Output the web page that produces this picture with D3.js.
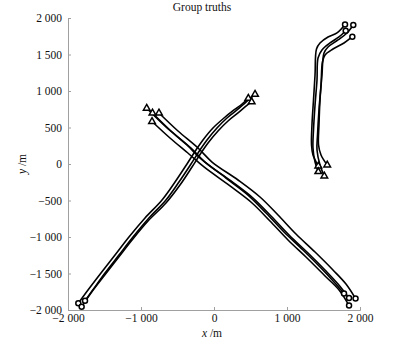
<!DOCTYPE html>
<html><head><meta charset="utf-8">
<script src="https://cdn.jsdelivr.net/npm/d3@7"></script>
<style>
html,body{margin:0;padding:0;background:#fff;}
text{font-family:"Liberation Serif","Times New Roman",serif;fill:#111;}
</style></head>
<body><svg id="c" width="408" height="341"></svg>
<script>
const title = "Group truths";
const xTicks = [-2000, -1000, 0, 1000, 2000];
const xTickLabels = ["\u22122 000", "\u22121 000", "0", "1 000", "2 000"];
const yTicks = [-2000, -1500, -1000, -500, 0, 500, 1000, 1500, 2000];
const yTickLabels = ["\u22122 000", "\u22121 500", "\u22121 000", "\u2212500", "0", "500", "1 000", "1 500", "2 000"];

// Group A: rising from lower-left (circle) to upper-right (triangle)
const groupA1 = [[-1859,-1908],[-1726,-1726],[-1548,-1493],[-1356,-1247],[-1165,-1000],[-945,-740],[-712,-493],[-534,-247],[-370,0],[-247,192],[-151,329],[-14,493],[137,630],[274,740],[384,822],[470,900]];
const groupA2 = [[-1767,-1873],[-1671,-1740],[-1493,-1493],[-1302,-1247],[-1110,-1000],[-891,-740],[-658,-493],[-480,-247],[-315,0],[-192,192],[-96,329],[41,493],[178,630],[315,740],[438,849],[562,955]];
const groupA3 = [[-1813,-1955],[-1685,-1767],[-1507,-1534],[-1315,-1288],[-1123,-1041],[-904,-781],[-658,-534],[-466,-288],[-301,-41],[-178,151],[-82,288],[55,452],[192,589],[329,699],[425,781],[516,853]];

// Group B: falling from upper-left (triangle) to lower-right (circle)
const groupB1 = [[-922,763],[-658,507],[-370,260],[-178,69],[164,-192],[466,-425],[713,-671],[959,-932],[1219,-1178],[1466,-1425],[1644,-1616],[1781,-1774]];
const groupB2 = [[-843,699],[-589,452],[-315,219],[-123,27],[233,-233],[534,-466],[781,-712],[1028,-973],[1288,-1219],[1534,-1466],[1699,-1644],[1850,-1836]];
const groupB3 = [[-849,582],[-603,356],[-343,137],[-137,-41],[219,-301],[521,-534],[767,-781],[1014,-1041],[1274,-1288],[1521,-1534],[1713,-1726],[1850,-1939]];
const groupB4 = [[-754,699],[-493,452],[-219,219],[-27,27],[329,-219],[630,-452],[877,-699],[1123,-959],[1384,-1206],[1630,-1452],[1808,-1644],[1939,-1843]];

// Group C: from upper-right (circle) down to triangle near y=0
const groupC1 = [[1795,1911],[1685,1795],[1562,1740],[1452,1658],[1404,1575],[1384,1219],[1363,877],[1342,534],[1336,260],[1356,123],[1429,-27]];
const groupC2 = [[1908,1904],[1822,1795],[1699,1699],[1562,1603],[1507,1521],[1479,1219],[1452,877],[1438,534],[1432,260],[1466,123],[1551,-14]];
const groupC3 = [[1804,1826],[1712,1740],[1589,1658],[1479,1562],[1425,1452],[1411,1151],[1384,808],[1363,466],[1356,219],[1384,27],[1429,-105]];
const groupC4 = [[1895,1744],[1781,1658],[1630,1575],[1521,1493],[1486,1397],[1466,1082],[1438,740],[1418,397],[1411,192],[1452,-14],[1511,-164]];

const tracks = [
  {pts: groupA1, startMark: "circle", endMark: "triangle"},
  {pts: groupA2, startMark: "circle", endMark: "triangle"},
  {pts: groupA3, startMark: "circle", endMark: "triangle"},
  {pts: groupB1, startMark: "triangle", endMark: "circle"},
  {pts: groupB2, startMark: "triangle", endMark: "circle"},
  {pts: groupB3, startMark: "triangle", endMark: "circle"},
  {pts: groupB4, startMark: "triangle", endMark: "circle"},
  {pts: groupC1, startMark: "circle", endMark: "triangle"},
  {pts: groupC2, startMark: "circle", endMark: "triangle"},
  {pts: groupC3, startMark: "circle", endMark: "triangle"},
  {pts: groupC4, startMark: "circle", endMark: "triangle"}
];

const svg = d3.select("#c");
const x = d3.scaleLinear().domain([-2000, 2000]).range([68, 360]);
const y = d3.scaleLinear().domain([-2000, 2000]).range([310, 18]);
const axisColor = "#a0a0a0";

const xAxis = d3.axisBottom(x).tickValues(xTicks).tickSize(-3).tickPadding(4)
  .tickFormat((d, i) => xTickLabels[i]);
const yAxis = d3.axisLeft(y).tickValues(yTicks).tickSize(-3).tickPadding(6)
  .tickFormat((d, i) => yTickLabels[i]);

const gx = svg.append("g").attr("transform", "translate(0,310)").call(xAxis);
const gy = svg.append("g").attr("transform", "translate(68,0)").call(yAxis);
[gx, gy].forEach(g => {
  g.select(".domain").attr("stroke", axisColor).attr("stroke-width", 1);
  g.selectAll(".tick line").attr("stroke", axisColor);
  g.selectAll(".tick text").attr("font-family", "Liberation Serif, serif")
    .attr("font-size", 11.5).attr("fill", "#111");
});

svg.append("text").attr("x", 202).attr("y", 11).attr("text-anchor", "middle")
  .attr("font-size", 11.5).text(title);
const xl = svg.append("text").attr("x", 212).attr("y", 337).attr("text-anchor", "middle").attr("font-size", 11.5);
xl.append("tspan").attr("font-style", "italic").text("x");
xl.append("tspan").text(" /m");
const yl = svg.append("text").attr("transform", "translate(26,164) rotate(-90)").attr("text-anchor", "middle").attr("font-size", 11.5);
yl.append("tspan").attr("font-style", "italic").text("y");
yl.append("tspan").text(" /m");

const line = d3.line().x(d => x(d[0])).y(d => y(d[1])).curve(d3.curveCatmullRom.alpha(0.5));
const gT = svg.append("g");
tracks.forEach(t => {
  gT.append("path").attr("d", line(t.pts)).attr("fill", "none")
    .attr("stroke", "#000").attr("stroke-width", 1.6).attr("stroke-linejoin", "round");
});
const tri = d3.symbol().type(d3.symbolTriangle).size(19);
function mark(p, type) {
  if (type === "circle") {
    gT.append("circle").attr("cx", x(p[0])).attr("cy", y(p[1])).attr("r", 2.5)
      .attr("fill", "#fff").attr("stroke", "#000").attr("stroke-width", 1.5);
  } else {
    gT.append("path").attr("d", tri()).attr("transform", `translate(${x(p[0])},${y(p[1])})`)
      .attr("fill", "#fff").attr("stroke", "#000").attr("stroke-width", 1.5);
  }
}
tracks.forEach(t => {
  mark(t.pts[0], t.startMark);
  mark(t.pts[t.pts.length - 1], t.endMark);
});
</script></body></html>
